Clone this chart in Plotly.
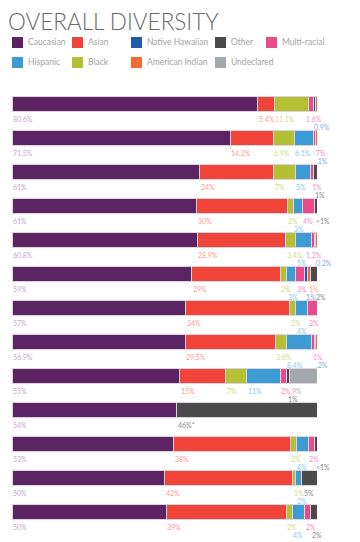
import plotly.graph_objects as go

# ---------------- data ----------------
rows = list(range(13))  # 13 organisations, top to bottom

series_names = ["Caucasian", "Asian", "Black", "Hispanic", "Multi-racial",
                "Native Hawaiian", "American Indian", "Other", "Undeclared"]

caucasian       = [80.6, 71.5, 61, 61, 60.8, 59, 57, 56.9, 55, 54, 53, 50, 50]
asian           = [5.4, 14.2, 24, 30, 28.9, 29, 34, 29.5, 15, None, 38, 42, 39]
black           = [11.1, 6.9, 7, 2, 3.4, 2, 2, 3.6, 7, None, 2, 1, 2]
hispanic        = [None, 6.1, 5, 3, 5, 3, 4, 8.4, 11, None, 4, 2, 4]
multi_racial    = [1.6, 0.7, 1, 4, 1.2, 3, 3, 1, 2, None, 2, None, 2]
native_hawaiian = [0.9, 0.1, None, None, 0.2, 1, None, 0.2, None, None, None, None, None]
american_indian = [0.4, 0.5, None, None, 0.5, 1, None, 0.5, None, None, None, None, None]
other           = [None, None, 1, 0.8, None, 2, None, None, 1, 46, 0.8, 5, 2]
undeclared      = [None, None, None, None, None, None, None, None, 9, None, None, None, None]

series_values = [caucasian, asian, black, hispanic, multi_racial,
                 native_hawaiian, american_indian, other, undeclared]

# labels that are printed differently from the plain value
label_overrides = {
    ("Multi-racial", 1): ".7%",
    ("Native Hawaiian", 1): ".1%",
    ("American Indian", 1): ".5%",
    ("Other", 3): "<1%",
    ("Native Hawaiian", 7): ".2%",
    ("American Indian", 7): ".5%",
    ("Other", 9): "46%*",
    ("Other", 10): "<1%",
}

legend_rows = [["Caucasian", "Asian", "Native Hawaiian", "Other", "Multi-racial"],
               ["Hispanic", "Black", "American Indian", "Undeclared"]]

# ---------------- style ----------------
seg_colors = {
    "Caucasian": "#5c2363", "Asian": "#ef4437", "Black": "#b4bf34",
    "Hispanic": "#3b9bd2", "Multi-racial": "#e94c8b", "Native Hawaiian": "#1f5ba8",
    "American Indian": "#f26a36", "Other": "#4b4b4b", "Undeclared": "#a3a8aa",
}
label_colors = {
    "Caucasian": "#c6a8cb", "Asian": "#f6a19b", "Black": "#d5db8e",
    "Hispanic": "#92c8ea", "Multi-racial": "#f193bf", "Native Hawaiian": "#8eaad8",
    "American Indian": "#f8ae8c", "Other": "#8a8a8a", "Undeclared": "#b5b8ba",
}

OFF = 8                      # the page body margin around the figure
W, H = 360 - OFF, 542 - OFF  # figure fills the rest of the window
FONT = "Lato"
x_left, x_right = 12 - OFF, 317 - OFF
px_per_pct = (x_right - x_left) / 100.0
top_px, bot_px = 87 - OFF, 529 - OFF
right_limit = 337 - OFF
LABEL_SIZE = 7

fig = go.Figure()
for name, vals in zip(series_names, series_values):
    fig.add_trace(go.Bar(
        y=rows, x=vals, orientation="h", name=name,
        marker=dict(color=seg_colors[name], line=dict(color="rgba(222,212,226,1)", width=1)),
        showlegend=False, hoverinfo="x+name",
    ))

# ---------------- value labels under the bars ----------------
def text_w(s):
    w = {"%": 5.6, ".": 1.7, "<": 4.1, "*": 3.0}
    return sum(w.get(c, 4.06) for c in s)

annotations = []
gap = 1.0
for r in rows:
    total = sum(v[r] for v in series_values if v[r] is not None)
    cum = 0.0
    ends = [-1e9, -1e9]
    placed = []  # [x_px, w_px, line, text, name]
    for name, vals in zip(series_names, series_values):
        v = vals[r]
        if v is None:
            continue
        start_pct = cum / total * 100.0
        cum += v
        txt = label_overrides.get((name, r), f"{v:g}%")
        xpx = x_left + start_pct * px_per_pct
        wpx = text_w(txt)
        if xpx >= ends[0] + gap:
            line = 0
        elif xpx >= ends[1] + gap:
            line = 1
        else:
            line = 0 if ends[0] <= ends[1] else 1
            xpx = ends[line] + gap
        ends[line] = xpx + wpx
        placed.append([xpx, wpx, line, txt, name])
    # keep labels inside the right limit by packing them leftwards
    for line in (0, 1):
        limit = right_limit
        for item in reversed([p for p in placed if p[2] == line]):
            if item[0] + item[1] > limit:
                item[0] = limit - item[1]
            limit = item[0] - gap
    for xpx, wpx, line, txt, name in placed:
        annotations.append(dict(
            x=(xpx - x_left) / px_per_pct, y=r, xref="x", yref="y",
            text=txt, showarrow=False, xanchor="left", yanchor="top",
            xshift=-1, yshift=-8.5 - 8 * line,
            font=dict(family=FONT, size=LABEL_SIZE, color=label_colors[name]),
        ))

# ---------------- title ----------------
annotations.append(dict(
    x=0, y=1, xref="paper", yref="paper", xanchor="left", yanchor="top",
    text="OVERALL DIVERSITY", showarrow=False, xshift=-2, yshift=2,
    font=dict(family=FONT, size=22.5, color="#6a6a6a", weight=300),
))

# ---------------- legend (drawn) ----------------
legend_cols = [12, 72, 131, 215, 266]
legend_tops = [37, 57]
shapes = []
for ri, names in enumerate(legend_rows):
    for ci, name in enumerate(names):
        x0 = legend_cols[ci] - OFF
        y0 = legend_tops[ri] - OFF
        shapes.append(dict(type="rect", xref="paper", yref="paper",
                           x0=x0 / W, x1=(x0 + 11) / W,
                           y0=1 - (y0 + 11) / H, y1=1 - y0 / H,
                           fillcolor=seg_colors[name], line=dict(width=0)))
        annotations.append(dict(
            x=(x0 + 14) / W, y=1 - (y0 + 5.5) / H, xref="paper", yref="paper",
            xanchor="left", yanchor="middle", text=name, showarrow=False,
            font=dict(family=FONT, size=8.5, color="#a3a3a3"),
        ))

fig.update_layout(
    width=W, height=H, margin=dict(l=0, r=0, t=0, b=0),
    paper_bgcolor="white", plot_bgcolor="white",
    barmode="stack", barnorm="percent", bargap=0.56,
    xaxis=dict(visible=False, range=[0, 100], domain=[x_left / W, x_right / W], fixedrange=True),
    yaxis=dict(visible=False, range=[12.5, -0.5], domain=[1 - bot_px / H, 1 - top_px / H], fixedrange=True),
    annotations=annotations, shapes=shapes, showlegend=False,
)

fig.write_html("out.html")
